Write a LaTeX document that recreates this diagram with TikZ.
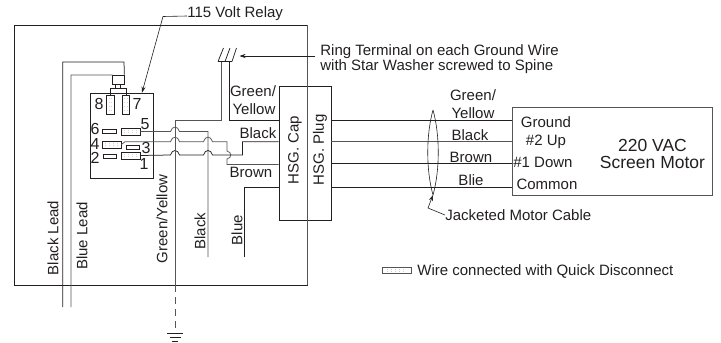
\documentclass[tikz,border=0pt]{standalone}
\usepackage{fontspec}
\setmainfont{Liberation Sans}
\usetikzlibrary{arrows.meta}
\definecolor{ink}{HTML}{231F20}
\definecolor{wiregray}{HTML}{555555}
\tikzset{
  x=1pt,y=-1pt,
  lbl/.style={inner sep=0pt,text=ink,font=\fontsize{15}{15}\selectfont},
  lblc/.style={lbl,align=center},
  vlbl/.style={lbl,rotate=90},
  num/.style={lbl,font=\fontsize{16}{16}\selectfont},
  qd/.style={draw=ink,rectangle,minimum width=19pt,minimum height=7pt,inner sep=0pt,fill=white},
  qdv/.style={draw=ink,rectangle,minimum width=7.5pt,minimum height=19pt,inner sep=0pt,fill=white},
  tab/.style={draw=ink,rectangle,minimum width=13.5pt,minimum height=4pt,inner sep=0pt,fill=white},
  box/.style={draw=ink,rectangle,inner sep=0pt},
  wire/.style={draw=wiregray},
  wireb/.style={draw=ink},
  lead/.style={-{Stealth[length=6pt,width=4pt]},draw=ink,line width=0.6pt},
  dotf/.style={fill=gray!60,draw=none},
}
\newcommand\hopat[2]{-- ({#1-4.5},#2) .. controls ({#1-3},{#2-6}) and ({#1+3},{#2-6}) .. ({#1+4.5},#2)}
\begin{document}
\begin{tikzpicture}[color=ink,line width=0.75pt]
\useasboundingbox (0,0) rectangle (721,343);
% main enclosure
\draw[wireb] (307.7,285) -- (14,285) -- (14,25) -- (307.7,25);
% relay
\node[box,minimum width=63pt,minimum height=85pt] (relay) at (121.5,135.5) {};
% terminals
\node[qdv] (t8) at (110.5,104.5) {};
\node[qdv] (t7) at (126,104.5) {};
\node[tab] (t6) at (109.5,131) {};
\node[qd] (t5) at (130.5,131.5) {};
\node[qd] (t4) at (111.5,144.5) {};
\node[tab] (t3) at (133,147) {};
\node[tab] (t2) at (110,156) {};
\node[qd] (t1) at (130.5,155.5) {};
\foreach \n in {t8,t7}{\foreach \d in {-6,-2,2,6}{\foreach \e in {-1.3,1.3}{
  \fill[dotf] ([shift={(\e,\d)}]\n.center) circle (0.35);}}}
\foreach \n in {t5,t4,t1}{\foreach \d in {-6,-2,2,6}{\foreach \e in {-1.3,1.3}{
  \fill[dotf] ([shift={(\d,\e)}]\n.center) circle (0.35);}}}
\node[num] (n8) at (99,104) {8};
\node[num] (n7) at (137,104) {7};
\node[num] (n6) at (95,129) {6};
\node[num] (n5) at (145,124) {5};
\node[num] (n4) at (95,143.5) {4};
\node[num] (n3) at (146,148) {3};
\node[num] (n2) at (95,157.5) {2};
\node[num] (n1) at (144,163.5) {1};
% relay plug and leads
\node[box,minimum width=12pt,minimum height=9pt] (plug) at (118,79.5) {};
\draw (115.5,84) -- (115.5,88) (120.5,84) -- (120.5,88);
\draw (t8.north) -- (110.5,88) -- (126,88) -- (t7.north);
\coordinate (bkEnd) at (62.7,307); \coordinate (blEnd) at (71,307);
\draw[wireb] (plug.north east) -- (124,62) -- (62.7,62) -- (bkEnd);
\draw[wire] (plug.north west) -- (112,75) -- (71,75) -- (blEnd);
% ground terminal
\coordinate (gA) at (221,62); \coordinate (gB) at (229,62);
\draw (218,61.5) -- (232,61.5);
\draw (218,61.5) -- (223.5,48) (225,61.5) -- (230,48) (232,61.5) -- (236.5,48);
% hsg
\node[box,fill=white,minimum width=52pt,minimum height=134pt] (hsg) at (305,153) {};
\draw[wire] (307.7,25) -- (307.7,285);
\node[vlbl] (cap) at (295,150) {HSG. Cap};
\node[vlbl] (plg) at (320,150) {HSG. Plug};
% motor
\node[box,minimum width=200pt,minimum height=88pt,draw=wiregray] (motor) at (612,151) {};
% internal wires
\coordinate (blk) at (208,257);
\coordinate (blu) at (244.5,257);
\draw[wire] (t5.east) \hopat{175}{131.6} -- (208,131.6) -- (blk);
\draw[wire] (t4.east) -- (125,141.7) \hopat{175}{141.7} \hopat{208}{141.7} -- (227,141.7) -- (227,151) .. controls (232,152) and (232,158) .. (227,159) -- (227,164.5) -- (hsg.west |- 0,164.5);
\draw[wireb] (t1.east) \hopat{175}{155} \hopat{208}{155} -- (242.5,155) -- (242.5,141.7) -- (hsg.west |- 0,141.7);
\draw[wireb] (hsg.west |- 0,187.5) -- (244.5,187.5) -- (blu);
\draw[wire] (gA) -- (221,120.5) -- (175,120.5) -- (175,285);
\draw[wireb] (gB) -- (229,120.5) -- (hsg.west |- 0,120.5);
% ground
\coordinate (gnd) at (175,333);
\draw[wire,dash pattern=on 7pt off 5pt] (175,285) -- (gnd);
\draw (167,333) -- (183,333) (170,337.5) -- (180.5,337.5) (172,341.3) -- (178,341.3);
% cable
\draw[wireb] (hsg.east |- 0,120.5) -- (motor.west |- 0,120.5);
\draw[wire] (hsg.east |- 0,141.7) -- (motor.west |- 0,141.7);
\draw[wireb] (hsg.east |- 0,163.4) -- (motor.west |- 0,163.4);
\draw[wireb] (hsg.east |- 0,187.4) -- (motor.west |- 0,187.4);
\coordinate (jT) at (433,110); \coordinate (jB) at (433,195);
\draw[line width=0.6pt] (jT) .. controls (426,135) and (426,170) .. (jB) .. controls (440,170) and (440,135) .. (jT);
% labels
\node[lbl,anchor=west] (relayT) at (187,14) {115 Volt Relay};
\draw[lead] (relayT.west |- 0,16) -- (163,16.5) -- (relay.north -| 142,0);
\node[lbl,anchor=west,align=left] (ring) at (320,59.5) {Ring Terminal on each Ground Wire\\with Star Washer screwed to Spine};
\coordinate (ringA) at (239.5,56);
\draw[lead] (315,56) -- (ringA);
\node[lbl] at (253,91) {Green/};
\node[lbl] at (254,109) {Yellow};
\node[lbl] at (258,133) {Black};
\node[lbl] at (251,172) {Brown};
\node[lbl] at (473,95) {Green/};
\node[lbl] at (473,113) {Yellow};
\node[lbl] at (470,135) {Black};
\node[lbl] at (471,157) {Brown};
\node[lbl] at (471,180) {Blie};
\node[lbl] at (546,122) {Ground};
\node[lbl] at (546,142) {\#2 Up};
\node[lbl] at (543,162) {\#1 Down};
\node[lbl] at (547,184) {Common};
\node[lblc,font=\fontsize{17.5}{17}\selectfont] at (652.5,153.5) {220 VAC\\Screen Motor};
\node[lbl,anchor=west] (jack) at (445,215) {Jacketed Motor Cable};
\draw[lead] (jack.west) -- (428,208) -- (jB);
\node[vlbl] at (53,238) {Black Lead};
\node[vlbl] at (82,236) {Blue Lead};
\node[vlbl] at (162,219) {Green/Yellow};
\node[vlbl] at (200,231) {Black};
\node[vlbl] at (237,230) {Blue};
% legend
\node[box,minimum width=29pt,minimum height=5.5pt,draw=wiregray] (leg) at (396.5,270.5) {};
\foreach \d in {-9,-5,-1,3,7}{\fill[dotf] ([shift={(\d,-1)}]leg.center) circle (0.35);\fill[dotf] ([shift={(\d,1)}]leg.center) circle (0.35);}
\node[lbl,anchor=west] (legT) at (417,271) {Wire connected with Quick Disconnect};
\end{tikzpicture}
\end{document}
